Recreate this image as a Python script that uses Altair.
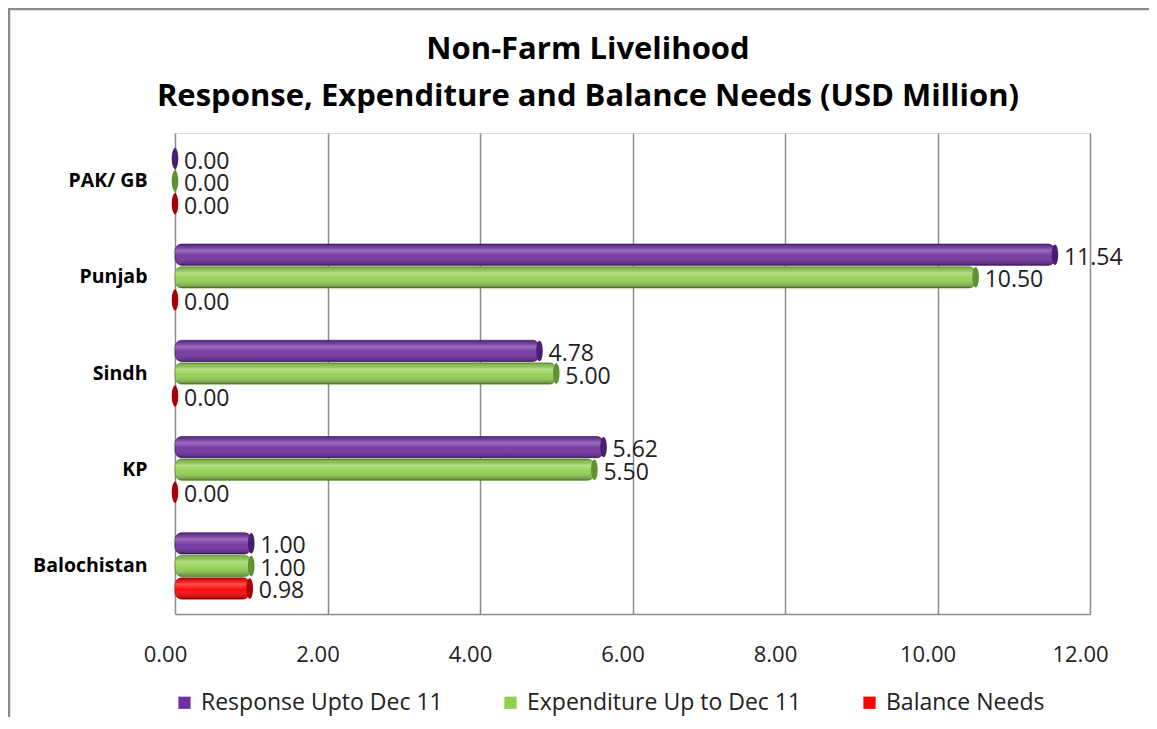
import altair as alt
import pandas as pd

categories = ["PAK/ GB", "Punjab", "Sindh", "KP", "Balochistan"]
series = ["Response Upto Dec 11", "Expenditure Up to Dec 11", "Balance Needs"]
response = [0.00, 11.54, 4.78, 5.62, 1.00]
expenditure = [0.00, 10.50, 5.00, 5.50, 1.00]
balance = [0.00, 0.00, 0.00, 0.00, 0.98]
colors = ["#7030A0", "#92D050", "#FF0000"]
cap_colors = ["#4A1D6E", "#5F9230", "#A80000"]
x_ticks = [0, 2, 4, 6, 8, 10, 12]
title_lines = ["Non-Farm Livelihood", "Response, Expenditure and Balance Needs (USD Million)"]

rows = []
for s, vals in zip(series, [response, expenditure, balance]):
    for c, v in zip(categories, vals):
        rows.append({"category": c, "series": s, "value": v})
df = pd.DataFrame(rows)

FONT = "Open Sans"

y_enc = alt.Y("category:N", sort=categories,
              scale=alt.Scale(paddingInner=0.31, paddingOuter=0.155),
              axis=alt.Axis(title=None, labelFontWeight="bold", labelFontSize=19.5,
                            labelColor="#000000", labelPadding=28, ticks=False,
                            domain=False, labelFont=FONT))
yoff_enc = alt.YOffset("series:N", sort=series, scale=alt.Scale(paddingInner=0.06))
x_enc = alt.X("value:Q", scale=alt.Scale(domain=[0, 12]),
              axis=alt.Axis(title=None, values=x_ticks, format=".2f", grid=True,
                            gridColor="#8c8c8c", gridWidth=1.5, ticks=False,
                            domain=True, domainColor="#8c8c8c", domainWidth=1.5,
                            labelFontSize=22, labelColor="#222222", labelPadding=30,
                            labelOffset=-10, labelFlush=False, labelFont=FONT))

base = alt.Chart(df)

bars = base.mark_bar(cornerRadius=7, strokeWidth=0.8).encode(
    x=x_enc, y=y_enc, yOffset=yoff_enc,
    color=alt.Color("series:N", sort=series,
                    scale=alt.Scale(domain=series, range=colors),
                    legend=alt.Legend(title=None, orient="none", legendX=-2, legendY=558,
                                      direction="horizontal", symbolType="square",
                                      symbolSize=150, symbolStrokeWidth=0,
                                      labelFontSize=23, labelFont=FONT, labelLimit=500,
                                      labelColor="#222222", columnPadding=56,
                                      labelOffset=5)),
    stroke=alt.Stroke("series:N", sort=series,
                      scale=alt.Scale(domain=series, range=cap_colors), legend=None),
)

shade = base.mark_bar(
    cornerRadius=7,
    fill=alt.Gradient(
        gradient="linear", x1=0, x2=0, y1=0, y2=1,
        stops=[
            alt.GradientStop(offset=0, color="rgba(0,0,0,0.15)"),
            alt.GradientStop(offset=0.3, color="rgba(255,255,255,0.30)"),
            alt.GradientStop(offset=0.55, color="rgba(255,255,255,0.05)"),
            alt.GradientStop(offset=1, color="rgba(0,0,0,0.35)"),
        ],
    ),
).encode(x="value:Q", y=alt.Y("category:N", sort=categories), yOffset=yoff_enc)

caps = base.mark_point(
    shape="M0,-1 A0.32,1 0 1,1 0,1 A0.32,1 0 1,1 0,-1 Z",
    filled=True, size=420, opacity=1,
).encode(
    x="value:Q", y=alt.Y("category:N", sort=categories), yOffset=yoff_enc,
    color=alt.Color("series:N", sort=series,
                    scale=alt.Scale(domain=series, range=colors), legend=None),
    fill=alt.Fill("series:N", sort=series,
                  scale=alt.Scale(domain=series, range=cap_colors), legend=None),
)

labels = base.mark_text(align="left", baseline="middle", dx=9, dy=3,
                        fontSize=23, font=FONT, color="#222222").encode(
    x="value:Q", y=alt.Y("category:N", sort=categories), yOffset=yoff_enc,
    text=alt.Text("value:Q", format=".2f"),
)

border = alt.Chart(pd.DataFrame({"a": [0]})).mark_rect(
    fill="transparent", stroke="#8a8a8a", strokeWidth=2.5
).encode(x=alt.value(-166), x2=alt.value(1100), y=alt.value(-124), y2=alt.value(700))

title1 = alt.Chart(pd.DataFrame({"t": [title_lines[0]]})).mark_text(
    font=FONT, fontSize=31, fontWeight="bold", color="#000000",
    align="center", baseline="middle"
).encode(text="t:N", x=alt.value(413), y=alt.value(-83))

title2 = alt.Chart(pd.DataFrame({"t": [title_lines[1]]})).mark_text(
    font=FONT, fontSize=31, fontWeight="bold", color="#000000",
    align="center", baseline="middle"
).encode(text="t:N", x=alt.value(413), y=alt.value(-36))

chart = alt.layer(border, title1, title2, bars, shade, caps, labels).properties(
    width=915, height=481,
    autosize=alt.AutoSizeParams(type="none"),
    padding={"left": 167, "top": 125, "right": 59, "bottom": 103},
).resolve_scale(color="independent", fill="independent", stroke="independent").configure_view(
    stroke=None
).configure(font=FONT, background="white")

chart.save("out.html", embed_options={"renderer": "svg", "actions": False})
